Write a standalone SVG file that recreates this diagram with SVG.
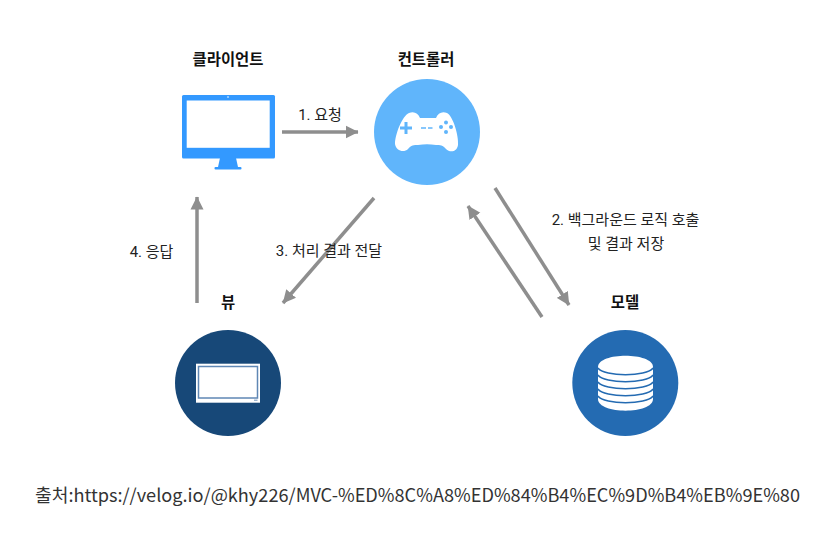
<svg xmlns="http://www.w3.org/2000/svg" width="839" height="543" viewBox="0 0 839 543">
<style>
text{font-family:"Noto Sans CJK KR","Noto Sans",sans-serif;fill:#1a1a1a}
.t{font-size:15.400px;font-weight:700;text-anchor:middle;fill:#111}
.l{font-family:Roboto,"Noto Sans CJK KR",sans-serif;font-size:15px;text-anchor:middle;fill:#222}
.c line{stroke:#8e8e8e;stroke-width:3.500;marker-end:url(#a)}
.w{fill:#fff}
</style>
<defs><marker id="a" markerUnits="userSpaceOnUse" markerWidth="14" markerHeight="14" refX="12.500" refY="7" orient="auto" viewBox="0 0 14 14"><path d="M0 0.500L13 7L0 13.500z" fill="#8e8e8e"/></marker></defs>
<rect width="839" height="543" fill="#fff"/>
<g id="connectors" class="c">
<line x1="282" y1="132" x2="358" y2="132"/>
<line x1="495" y1="188" x2="569" y2="305"/>
<line x1="542" y1="317" x2="468" y2="206"/>
<line x1="374" y1="198" x2="283" y2="303"/>
<line x1="197" y1="303" x2="197" y2="197"/>
</g>
<g id="client">
<text class="t" x="228" y="65">클라이언트</text>
<rect x="182" y="95" width="93" height="63.500" rx="1.500" fill="#3399ff"/>
<rect x="186.700" y="100.500" width="83" height="47.300" fill="#fff"/>
<circle cx="228" cy="97" r="0.800" fill="#fff"/>
<path d="M220 158h16l2 9h-20z" fill="#3399ff"/><rect x="214.500" y="167" width="27" height="2.500" rx="1" fill="#3399ff"/>
</g>
<g id="controller">
<text class="t" x="426" y="65">컨트롤러</text>
<circle cx="427" cy="132" r="53" fill="#60b5fb"/>
<path class="w" d="M409 113C414 111 418 113 420 118H436C438 113 442 111 447 113C453 116 459 136 458 145C457 152 450 153 446 149C443 145 440 145 436 145C430 144 424 144 418 145C414 145 411 145 408 149C404 153 396 151 395 144C395 135 402 116 409 113Z"/>
<path d="M400 126.500h4.500v-4.500h3v4.500h4.500v3h-4.500v4.500h-3v-4.500h-4.500z" fill="#60b5fb"/>
<path d="M421 128h5M428 128h4.500" stroke="#60b5fb" stroke-width="1.500"/>
<g fill="#60b5fb"><circle cx="446" cy="122.500" r="2"/><circle cx="441" cy="127" r="2"/><circle cx="451" cy="127" r="2"/><circle cx="446" cy="132" r="2"/></g>
</g>
<g id="view">
<text class="t" x="228" y="308">뷰</text>
<circle cx="228" cy="383" r="53" fill="#174878"/>
<rect x="196" y="363.700" width="64" height="39" fill="#fff"/>
<rect x="198.500" y="366.500" width="59" height="31.500" fill="#fff" stroke="#5f87b4" stroke-width="1.500"/>
<rect x="254" y="399.500" width="3.500" height="1.500" fill="#9fb6d0"/>
</g>
<g id="model">
<text class="t" x="625" y="308">모델</text>
<circle cx="625.300" cy="383" r="53" fill="#246bb2"/>
<path class="w" d="M598 367C598 352 653 352 653 367V399C653 414.500 598 414.500 598 399Z"/>
<g fill="none" stroke="#246bb2" stroke-width="1.500"><path d="M598 368C604 377 647 377 653 368"/><path d="M598 375C604 384 647 384 653 375"/><path d="M598 382C604 391 647 391 653 382"/><path d="M598 389C604 398 647 398 653 389"/><path d="M598 396C604 405 647 405 653 396"/></g>
</g>
<g id="labels">
<text class="l" x="320" y="120">1. 요청</text>
<text class="l" x="625.500" y="225">2. 백그라운드 로직 호출</text>
<text class="l" x="626" y="249">및 결과 저장</text>
<text class="l" x="329" y="256">3. 처리 결과 전달</text>
<text class="l" x="151.500" y="257">4. 응답</text>
<text x="35" y="502" style="font-size:18px;fill:#333" textLength="765" lengthAdjust="spacingAndGlyphs">출처:https://velog.io/@khy226/MVC-%ED%8C%A8%ED%84%B4%EC%9D%B4%EB%9E%80</text>
</g>
</svg>
